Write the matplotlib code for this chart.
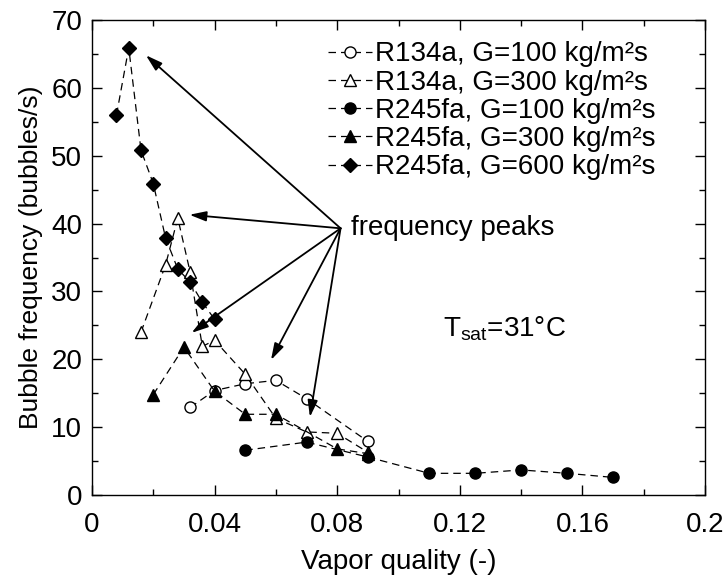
import matplotlib
matplotlib.use("Agg")
import matplotlib.pyplot as plt
from matplotlib.ticker import MultipleLocator

plt.rcParams['font.family'] = ['Liberation Sans', 'DejaVu Sans']
plt.rcParams['mathtext.fontset'] = 'custom'
plt.rcParams['mathtext.rm'] = 'Liberation Sans'
plt.rcParams['mathtext.it'] = 'Liberation Sans'

# Data
x_r134_100 = [0.032, 0.040, 0.050, 0.060, 0.070, 0.090]
y_r134_100 = [12.9, 15.4, 16.4, 16.9, 14.2, 7.9]

x_r134_300 = [0.016, 0.024, 0.028, 0.032, 0.036, 0.040, 0.050, 0.060, 0.070, 0.080, 0.090]
y_r134_300 = [24.0, 33.9, 40.8, 32.9, 21.9, 22.8, 17.8, 11.3, 9.3, 9.1, 6.3]

x_r245_100 = [0.050, 0.070, 0.090, 0.110, 0.125, 0.140, 0.155, 0.170]
y_r245_100 = [6.6, 7.8, 5.6, 3.2, 3.2, 3.7, 3.2, 2.6]

x_r245_300 = [0.020, 0.030, 0.040, 0.050, 0.060, 0.080, 0.090]
y_r245_300 = [14.8, 21.8, 15.3, 11.9, 11.9, 6.8, 6.1]

x_r245_600 = [0.008, 0.012, 0.016, 0.020, 0.024, 0.028, 0.032, 0.036, 0.040]
y_r245_600 = [56.0, 65.9, 50.8, 45.9, 37.9, 33.3, 31.4, 28.4, 25.9]

labels = ["R134a, G=100 kg/m²s", "R134a, G=300 kg/m²s", "R245fa, G=100 kg/m²s",
          "R245fa, G=300 kg/m²s", "R245fa, G=600 kg/m²s"]

# annotation geometry (data coords)
arrow_origin = (0.0811, 39.3)
arrow_tips = [(0.0176, 64.8), (0.0318, 41.3), (0.0325, 23.9), (0.0584, 19.9), (0.0711, 11.5)]

fig = plt.figure(figsize=(7.23, 5.79), dpi=100)
ax = fig.add_axes([0.1272, 0.145, 0.848, 0.8205])

dash = (0, (6, 4))
common = dict(color='black', linestyle=dash, linewidth=0.9, markeredgecolor='black',
              markeredgewidth=1.0)
series = [
    (x_r134_100, y_r134_100, 'o', 'white', 8),
    (x_r134_300, y_r134_300, '^', 'white', 9),
    (x_r245_100, y_r245_100, 'o', 'black', 8),
    (x_r245_300, y_r245_300, '^', 'black', 9),
    (x_r245_600, y_r245_600, 'D', 'black', 7),
]
for (xs, ys, m, fc, ms), lab in zip(series, labels):
    ax.plot(xs, ys, marker=m, markerfacecolor=fc, markersize=ms, label=lab, **common)

for tip in arrow_tips:
    ax.annotate('', xy=tip, xytext=arrow_origin,
                arrowprops=dict(arrowstyle='-|>,head_length=1.0,head_width=0.3',
                                color='black', lw=1.3, shrinkA=0, shrinkB=0))

ax.text(0.0845, 39.3, 'frequency peaks', fontsize=20, va='center', ha='left')
ax.text(0.1145, 23.3, 'T$_{\\mathrm{sat}}$=31°C', fontsize=20, va='baseline', ha='left')

ax.set_xlim(0, 0.2)
ax.set_ylim(0, 70)
ax.xaxis.set_minor_locator(MultipleLocator(0.02))
ax.yaxis.set_major_locator(MultipleLocator(10))
ax.yaxis.set_minor_locator(MultipleLocator(5))
ax.set_xticks([0, 0.04, 0.08, 0.12, 0.16, 0.2])
ax.set_xticklabels(['0', '0.04', '0.08', '0.12', '0.16', '0.2'])
ax.tick_params(which='both', direction='in', top=True, right=True, labelsize=20)
ax.tick_params(which='major', length=7, width=1)
ax.tick_params(which='minor', length=4, width=1)
ax.tick_params(axis='x', pad=12)
ax.tick_params(axis='y', pad=7)
for s in ax.spines.values():
    s.set_linewidth(1.0)

ax.set_xlabel('Vapor quality (-)', fontsize=20, labelpad=8)
ax.set_ylabel('Bubble frequency (bubbles/s)', fontsize=19, labelpad=6)

leg = ax.legend(loc='upper left', bbox_to_anchor=(0.385, 0.955), frameon=False, fontsize=20,
                handlelength=1.6, handletextpad=0.1, labelspacing=0.08, borderaxespad=0.0,
                borderpad=0.0)

fig.savefig('out.png', dpi=100)
